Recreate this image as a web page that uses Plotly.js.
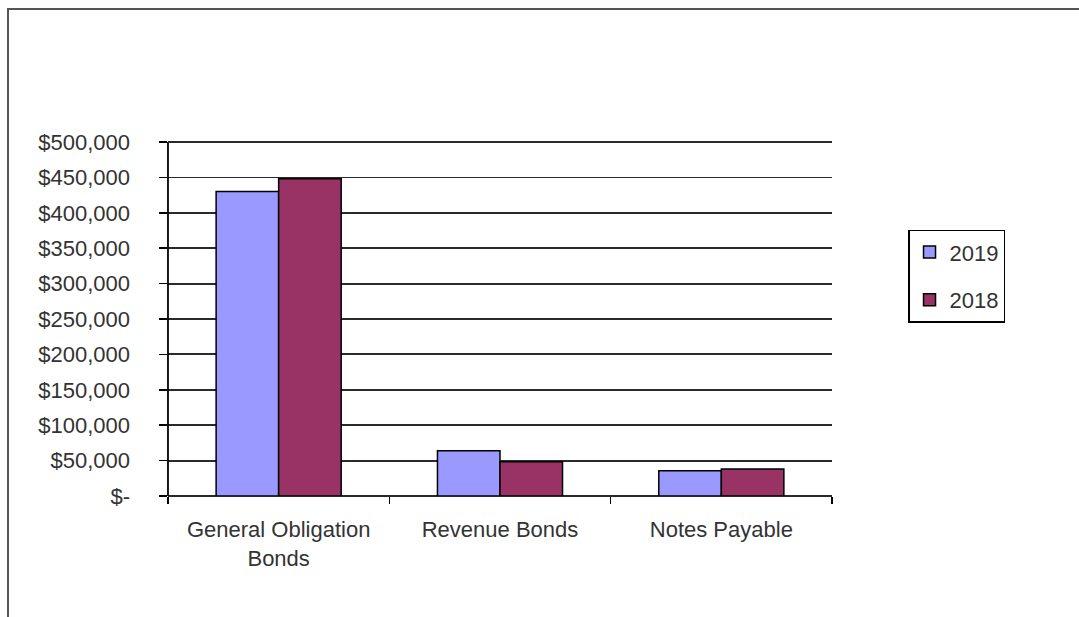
<!DOCTYPE html>
<html>
<head>
<meta charset="utf-8">
<script src="https://cdn.plot.ly/plotly-3.0.1.min.js"></script>
<style>
  html, body { margin: 0; padding: 0; background: #fff; }
  #wrap { position: relative; width: 1079px; height: 617px; overflow: hidden; }
  #chart { width: 1079px; height: 617px; }
  #frame { position: absolute; left: 7px; top: 8px; width: 1200px; height: 800px;
           border: 2px solid #555; pointer-events: none; box-sizing: border-box; }
</style>
</head>
<body>
<div id="wrap">
  <div id="chart"></div>
  <div id="frame"></div>
</div>
<script>
const categories = ["General Obligation<br>Bonds", "Revenue Bonds", "Notes Payable"];
const series2019 = [430000, 64000, 35500];
const series2018 = [448000, 48500, 38000];
const seriesNames = ["2019", "2018"];
const yTickVals = [0, 50000, 100000, 150000, 200000, 250000, 300000, 350000, 400000, 450000, 500000];
const yTickText = ["$-", "$50,000", "$100,000", "$150,000", "$200,000", "$250,000", "$300,000", "$350,000", "$400,000", "$450,000", "$500,000"];

const font = { family: "Liberation Sans, Arial, sans-serif", size: 22, color: "#333333" };
const yRange = [0, 500000];

const traces = [
  { type: "bar", name: seriesNames[0], x: categories, y: series2019, legendgroup: "a",
    marker: { color: "#9999FF", line: { color: "#000000", width: 1.5 } } },
  { type: "bar", name: seriesNames[1], x: categories, y: series2018, legendgroup: "b",
    marker: { color: "#993366", line: { color: "#000000", width: 1.5 } } },
  // carrier for the tick-label axis (draws nothing)
  { type: "scatter", mode: "none", x: categories, y: series2019, yaxis: "y2",
    showlegend: false, hoverinfo: "skip" }
];

const layout = {
  width: 1079, height: 617,
  margin: { l: 130, r: 247, t: 142, b: 121 },
  paper_bgcolor: "#ffffff", plot_bgcolor: "#ffffff",
  font: font,
  barmode: "group", bargap: 0.435, bargroupgap: 0,
  showlegend: true,
  legend: {
    x: 1.1083, y: 0.752, xanchor: "left", yanchor: "top",
    bordercolor: "#000000", borderwidth: 1.5, bgcolor: "#ffffff",
    font: font, traceorder: "grouped", tracegroupgap: 16
  },
  xaxis: {
    type: "category", domain: [0.0541, 1], tickson: "boundaries", ticks: "outside", ticklen: 7,
    tickcolor: "#000", tickwidth: 1.5, showgrid: false, showline: false,
    tickfont: font, zeroline: false, ticklabelstandoff: 18
  },
  yaxis: {
    range: yRange, tickvals: yTickVals, showticklabels: false,
    ticks: "outside", ticklen: 8, tickcolor: "#000", tickwidth: 1.5,
    showline: false,
    showgrid: true, gridcolor: "#2a2a2a", gridwidth: 1.8,
    zeroline: true, zerolinecolor: "#2a2a2a", zerolinewidth: 1.8
  },
  yaxis2: {
    overlaying: "y", anchor: "free", position: 0, side: "left",
    range: yRange, tickvals: yTickVals, ticktext: yTickText,
    ticks: "", showline: false, showgrid: false, zeroline: false,
    tickfont: font
  },
  shapes: [
    { type: "line", xref: "x domain", yref: "y domain", x0: 0, x1: 0, y0: 0, y1: 1,
      line: { color: "#000000", width: 1.8 } },
    { type: "line", xref: "x domain", yref: "y domain", x0: 0, x1: 1, y0: 1, y1: 1,
      line: { color: "#2a2a2a", width: 1.8 } }
  ]
};

Plotly.newPlot("chart", traces, layout, { displayModeBar: false, staticPlot: true });
</script>
</body>
</html>
